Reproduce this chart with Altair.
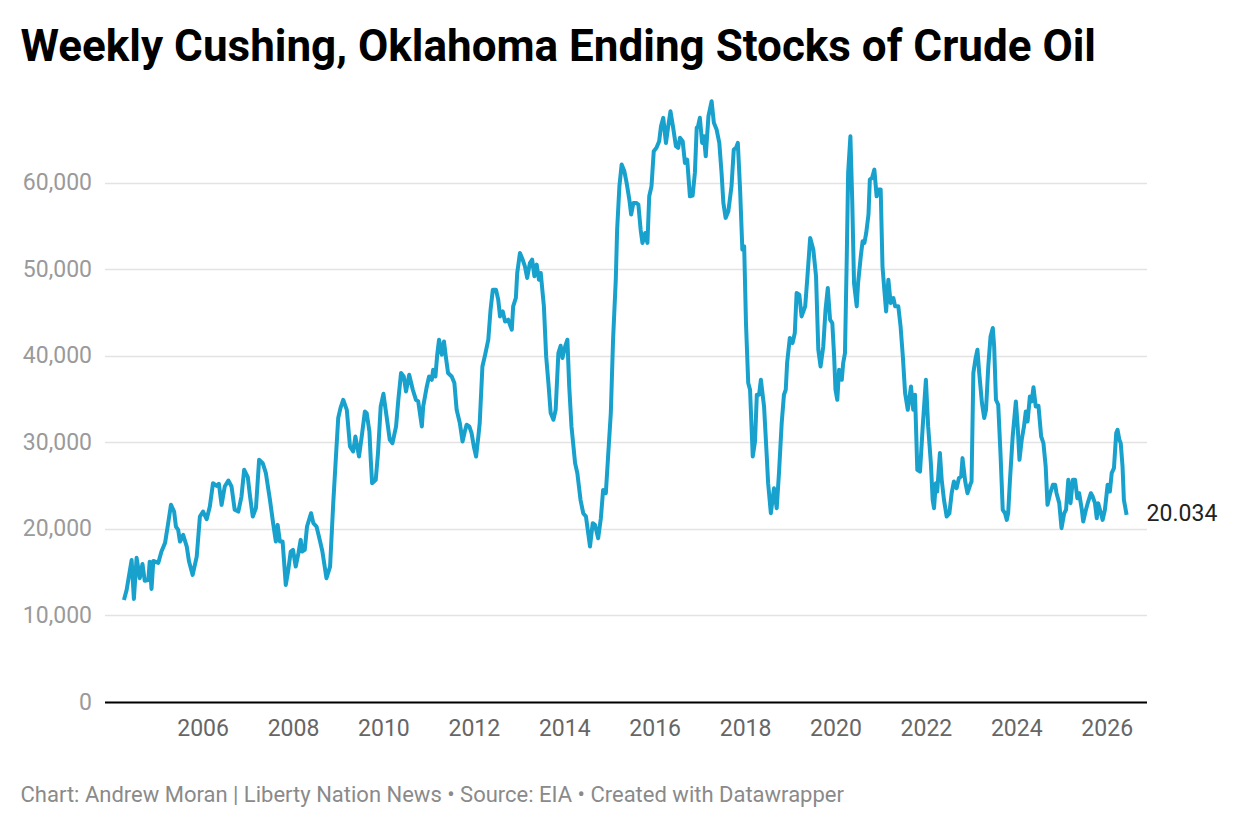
import altair as alt
import pandas as pd

years = [
    2004.26, 2004.32, 2004.43, 2004.48, 2004.54, 2004.61, 2004.67, 2004.72, 2004.80, 2004.83,
    2004.87, 2004.91, 2005.02, 2005.09, 2005.17, 2005.24, 2005.30, 2005.37, 2005.41, 2005.46,
    2005.50, 2005.57, 2005.65, 2005.70, 2005.78, 2005.87, 2005.94, 2006.01, 2006.09, 2006.16,
    2006.23, 2006.31, 2006.36, 2006.42, 2006.49, 2006.57, 2006.64, 2006.71, 2006.79, 2006.86,
    2006.92, 2007.00, 2007.05, 2007.11, 2007.18, 2007.25, 2007.33, 2007.40, 2007.49, 2007.56,
    2007.62, 2007.66, 2007.71, 2007.77, 2007.84, 2007.89, 2007.95, 2008.00, 2008.06, 2008.12,
    2008.17, 2008.20, 2008.26, 2008.31, 2008.40, 2008.45, 2008.52, 2008.60, 2008.65, 2008.74,
    2008.82, 2008.89, 2008.95, 2009.00, 2009.05, 2009.11, 2009.19, 2009.26, 2009.33, 2009.38,
    2009.46, 2009.52, 2009.59, 2009.63, 2009.69, 2009.72, 2009.75, 2009.83, 2009.88, 2009.94,
    2010.00, 2010.07, 2010.14, 2010.20, 2010.28, 2010.33, 2010.39, 2010.45, 2010.50, 2010.57,
    2010.65, 2010.72, 2010.77, 2010.85, 2010.88, 2010.96, 2011.01, 2011.07, 2011.10, 2011.15,
    2011.19, 2011.23, 2011.29, 2011.34, 2011.38, 2011.43, 2011.51, 2011.57, 2011.62, 2011.69,
    2011.75, 2011.80, 2011.84, 2011.90, 2011.95, 2012.00, 2012.05, 2012.10, 2012.13, 2012.19,
    2012.25, 2012.32, 2012.37, 2012.42, 2012.49, 2012.54, 2012.58, 2012.64, 2012.69, 2012.76,
    2012.84, 2012.87, 2012.93, 2012.96, 2013.02, 2013.08, 2013.13, 2013.18, 2013.24, 2013.29,
    2013.34, 2013.39, 2013.44, 2013.48, 2013.55, 2013.60, 2013.65, 2013.70, 2013.76, 2013.81,
    2013.87, 2013.92, 2013.96, 2014.02, 2014.07, 2014.11, 2014.16, 2014.24, 2014.29, 2014.36,
    2014.42, 2014.48, 2014.51, 2014.57, 2014.63, 2014.68, 2014.75, 2014.81, 2014.86, 2014.92,
    2014.97, 2015.03, 2015.08, 2015.14, 2015.17, 2015.22, 2015.27, 2015.33, 2015.38, 2015.44,
    2015.48, 2015.53, 2015.59, 2015.64, 2015.69, 2015.73, 2015.79, 2015.84, 2015.88, 2015.93,
    2015.98, 2016.04, 2016.10, 2016.14, 2016.19, 2016.25, 2016.30, 2016.35, 2016.41, 2016.47,
    2016.52, 2016.56, 2016.62, 2016.67, 2016.72, 2016.78, 2016.84, 2016.89, 2016.93, 2016.96,
    2017.00, 2017.05, 2017.09, 2017.13, 2017.19, 2017.26, 2017.31, 2017.37, 2017.43, 2017.48,
    2017.52, 2017.57, 2017.63, 2017.70, 2017.75, 2017.80, 2017.84, 2017.89, 2017.94, 2017.98,
    2018.02, 2018.07, 2018.11, 2018.17, 2018.22, 2018.26, 2018.31, 2018.35, 2018.42, 2018.48,
    2018.51, 2018.57, 2018.64, 2018.70, 2018.75, 2018.81, 2018.86, 2018.90, 2018.93, 2018.99,
    2019.05, 2019.10, 2019.14, 2019.20, 2019.25, 2019.33, 2019.38, 2019.44, 2019.51, 2019.57,
    2019.62, 2019.67, 2019.73, 2019.78, 2019.83, 2019.88, 2019.93, 2019.97, 2020.00, 2020.04,
    2020.08, 2020.14, 2020.17, 2020.21, 2020.25, 2020.28, 2020.33, 2020.37, 2020.41, 2020.47,
    2020.50, 2020.56, 2020.60, 2020.64, 2020.68, 2020.73, 2020.76, 2020.81, 2020.86, 2020.91,
    2020.96, 2021.00, 2021.04, 2021.08, 2021.12, 2021.17, 2021.22, 2021.28, 2021.32, 2021.39,
    2021.44, 2021.49, 2021.54, 2021.60, 2021.67, 2021.72, 2021.76, 2021.81, 2021.87, 2021.93,
    2022.00, 2022.05, 2022.11, 2022.15, 2022.18, 2022.22, 2022.25, 2022.31, 2022.35, 2022.40,
    2022.46, 2022.52, 2022.57, 2022.62, 2022.68, 2022.73, 2022.78, 2022.81, 2022.87, 2022.92,
    2022.98, 2023.01, 2023.05, 2023.10, 2023.14, 2023.18, 2023.24, 2023.29, 2023.33, 2023.38,
    2023.43, 2023.48, 2023.51, 2023.55, 2023.60, 2023.65, 2023.70, 2023.75, 2023.79, 2023.82,
    2023.86, 2023.92, 2023.99, 2024.03, 2024.07, 2024.12, 2024.17, 2024.21, 2024.25, 2024.30,
    2024.34, 2024.38, 2024.43, 2024.49, 2024.55, 2024.60, 2024.65, 2024.69, 2024.75, 2024.81,
    2024.86, 2024.89, 2024.95, 2025.00, 2025.06, 2025.10, 2025.15, 2025.20, 2025.25, 2025.30,
    2025.35, 2025.39, 2025.45, 2025.48, 2025.54, 2025.59, 2025.65, 2025.69, 2025.74, 2025.78,
    2025.81, 2025.85, 2025.91, 2025.96, 2026.02, 2026.07, 2026.11, 2026.16, 2026.21, 2026.24,
    2026.28, 2026.31, 2026.35, 2026.38, 2026.44,
]

stocks = [
    11790, 12950, 16400, 11900, 16650, 14300, 15950, 14000, 14100, 16200,
    13060, 16300, 16070, 17380, 18380, 20700, 22780, 22000, 20270, 19880,
    18530, 19300, 17950, 16220, 14680, 16800, 21420, 22000, 21120, 22580,
    25280, 24970, 25200, 22770, 24890, 25580, 24890, 22200, 22000, 23730,
    26820, 25970, 23730, 21420, 22390, 27975, 27590, 26430, 23350, 20660,
    18530, 20460, 18530, 18530, 13520, 15060, 17380, 17570, 15640, 17190,
    18730, 17380, 17570, 20270, 21810, 20660, 20270, 18530, 17380, 14300,
    15640, 22970, 28360, 32800, 33950, 34910, 33750, 29520, 28940, 30670,
    28360, 30670, 33560, 33370, 31250, 27975, 25280, 25660, 28750, 34140,
    35600, 32990, 30290, 29900, 31830, 34910, 38000, 37600, 35870, 37800,
    36070, 34910, 34720, 31830, 34140, 36450, 37600, 37220, 38380, 37600,
    40110, 41850, 40110, 41650, 39920, 38000, 37600, 36840, 33750, 32220,
    30090, 31250, 32020, 31830, 31060, 29520, 28360, 30670, 32220, 38760,
    40110, 41850, 45320, 47630, 47630, 46470, 44540, 45120, 43960, 44160,
    43000, 45700, 46670, 49560, 51870, 51100, 50320, 48980, 50710, 51100,
    49170, 50520, 48780, 49560, 45700, 39920, 36840, 33370, 32600, 33750,
    40310, 41150, 39730, 41070, 41850, 36450, 31830, 27590, 26430, 23350,
    21810, 21420, 20270, 17950, 20660, 20460, 18920, 21230, 24500, 24120,
    28360, 33370, 41850, 48780, 54560, 59570, 62080, 61300, 59960, 58030,
    56300, 57650, 57650, 57450, 54560, 53030, 54180, 53030, 58420, 59570,
    63620, 64010, 64780, 66510, 67480, 64580, 66510, 68240, 66320, 64200,
    64010, 65170, 64780, 62270, 62660, 58420, 58500, 61120, 66320, 66510,
    67480, 64580, 65350, 63040, 67670, 69400, 66900, 66130, 64580, 61120,
    57650, 55920, 56690, 59570, 63810, 64010, 64580, 59190, 52260, 52640,
    43770, 36840, 36070, 28360, 30100, 35500, 35500, 37220, 34140, 28360,
    25280, 21810, 24700, 22390, 26430, 32220, 35490, 36070, 39150, 42040,
    41460, 42620, 47240, 47050, 44540, 45700, 49170, 53610, 52260, 49170,
    40690, 38760, 41070, 45320, 47820, 44160, 43770, 39920, 36070, 34910,
    38380, 37220, 39150, 40310, 51480, 61120, 65350, 58030, 48400, 45700,
    48400, 51480, 53210, 53030, 54180, 56300, 60340, 60540, 61500, 58420,
    59190, 59190, 50320, 47630, 45120, 48780, 46090, 46670, 45700, 45700,
    43390, 39920, 35680, 33750, 36450, 33750, 35490, 26820, 26620, 31830,
    37220, 31830, 27590, 23350, 22390, 25280, 24310, 28750, 25660, 23350,
    21420, 21810, 24120, 25470, 24700, 25860, 26050, 28170, 25470, 24120,
    25090, 25470, 38000, 39730, 40690, 38000, 34530, 32800, 33750, 38760,
    42230, 43200, 41070, 34910, 34330, 28750, 22200, 21810, 21040, 21810,
    25660, 30670, 34720, 31830, 27975, 30290, 31830, 33560, 32410, 35290,
    34720, 36370, 34140, 34220, 30670, 29900, 27200, 22780, 24120, 25090,
    25090, 24120, 22970, 20080, 21810, 22200, 25660, 22970, 25660, 25660,
    23540, 24120, 22200, 20850, 22200, 23150, 24120, 23730, 22970, 21230,
    22970, 22200, 21040, 22200, 25090, 24310, 26430, 27010, 31060, 31440,
    30290, 29900, 27200, 23350, 21620,
]

x_ticks = [2006, 2008, 2010, 2012, 2014, 2016, 2018, 2020, 2022, 2024, 2026]
y_ticks = [0, 10000, 20000, 30000, 40000, 50000, 60000]
end_label = "20.034"
title_text = "Weekly Cushing, Oklahoma Ending Stocks of Crude Oil"
footer_text = "Chart: Andrew Moran | Liberty Nation News • Source: EIA • Created with Datawrapper"

df = pd.DataFrame({"year": years, "stocks": stocks})
last = df.tail(1).assign(label=end_label)

W = 1042
H = 606
FONT = "Roboto"

x_enc = alt.X(
    "year:Q",
    scale=alt.Scale(domain=[2003.83, 2026.88], nice=False, zero=False),
    axis=alt.Axis(
        values=x_ticks, format="d", title=None, grid=False,
        domain=True, domainColor="#000000", domainWidth=2,
        ticks=False, tickSize=0, labelPadding=15,
        labelColor="#666666", labelFontSize=23, labelFont=FONT,
    ),
)
y_enc = alt.Y(
    "stocks:Q",
    scale=alt.Scale(domain=[0, 70000], nice=False),
    axis=alt.Axis(
        values=y_ticks, format=",d", title=None, grid=True,
        gridColor="#e3e3e3", gridWidth=1.5, domain=False,
        ticks=False, tickSize=0, labelPadding=13,
        labelColor="#9a9a9a", labelFontSize=23, labelFont=FONT,
    ),
)

line = alt.Chart(df).mark_line(color="#18a1cd", strokeWidth=4, strokeJoin="round").encode(
    x=x_enc, y=y_enc
)

label = alt.Chart(last).mark_text(
    align="left", baseline="middle", dx=20, dy=-1, fontSize=23, font=FONT, color="#222222"
).encode(x="year:Q", y="stocks:Q", text="label:N")

title = alt.Chart(pd.DataFrame({"t": [title_text]})).mark_text(
    align="left", baseline="alphabetic", fontSize=44, font=FONT, fontWeight="bold",
    color="#000000"
).encode(x=alt.value(-84), y=alt.value(-35), text="t:N")

footer = alt.Chart(pd.DataFrame({"t": [footer_text]})).mark_text(
    align="left", baseline="alphabetic", fontSize=22, font=FONT, color="#8a8a8a"
).encode(x=alt.value(-84), y=alt.value(706), text="t:N")

chart = (
    alt.layer(line, label, title, footer)
    .properties(
        width=W,
        height=H,
        background="#ffffff",
        autosize=alt.AutoSizeParams(type="none"),
        padding={"left": 104.5, "top": 96, "right": 93.5, "bottom": 126},
    )
    .configure_view(strokeWidth=0, stroke=None)
)

chart.save("out.html", embed_options={"renderer": "svg", "actions": False})
